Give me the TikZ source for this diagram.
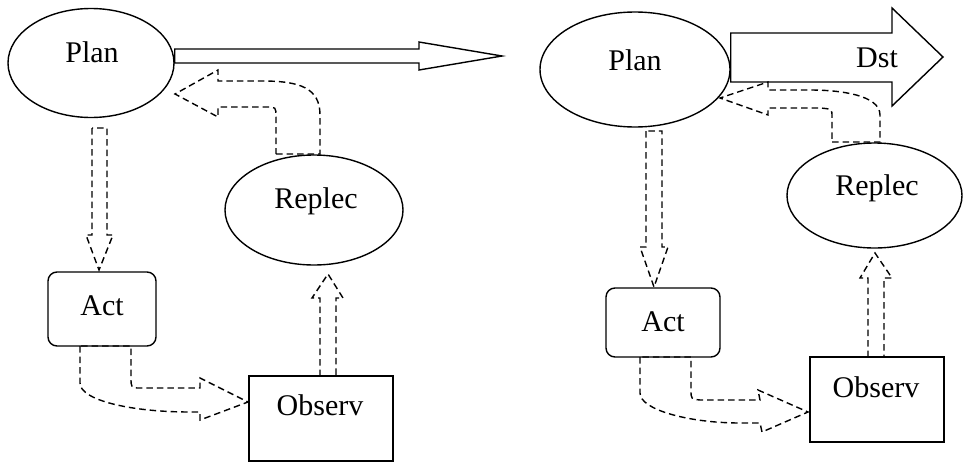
\documentclass[tikz,border=0pt]{standalone}
\usepackage{fontspec}
\setmainfont{Liberation Serif}
\usetikzlibrary{shapes.geometric}
\begin{document}
\begin{tikzpicture}[x=1pt,y=-1pt,
  every node/.style={font=\fontsize{30}{34}\selectfont},
  shp/.style={draw, line width=1.4pt, inner sep=0pt},
  ell/.style={shp, ellipse},
  boxr/.style={shp, rectangle},
  rboxr/.style={shp, rectangle, rounded corners=9pt},
  lbl/.style={anchor=base, inner sep=0pt},
  solidarrow/.style={draw, line width=1.4pt, line join=miter},
  dasharrow/.style={draw, line width=1.4pt, dash pattern=on 6.5pt off 4pt, line join=miter}]
\useasboundingbox (0,0) rectangle (963,463);
% left shapes
\node[ell, minimum width=166pt, minimum height=109pt] (planL) at (91,63) {};
\node[ell, minimum width=178pt, minimum height=110pt] (replecL) at (314,210) {};
\node[rboxr, minimum width=108pt, minimum height=74pt] (actL) at (102,309) {};
\node[boxr, minimum width=144pt, minimum height=85pt] (observL) at (321,418.5) {};
% right shapes
\node[ell, minimum width=190pt, minimum height=115pt] (planR) at (635,69.5) {};
\node[ell, minimum width=175pt, minimum height=105pt] (replecR) at (874.5,195.5) {};
\node[rboxr, minimum width=114pt, minimum height=69pt] (actR) at (663,322.5) {};
\node[boxr, minimum width=134pt, minimum height=85pt] (observR) at (877,399.5) {};
% labels
\node[lbl] (tPlanL) at (92,62) {Plan};
\node[lbl] (tReplecL) at (316,208) {Replec};
\node[lbl] (tActL) at (102,315) {Act};
\node[lbl] (tObservL) at (320,415) {Observ};
\node[lbl] (tPlanR) at (635,70) {Plan};
\node[lbl] (tReplecR) at (877,195) {Replec};
\node[lbl] (tActR) at (663,331) {Act};
\node[lbl] (tObservR) at (876,397) {Observ};
\node[lbl] (tDst) at (877,67) {Dst};
% big left arrow
\path[solidarrow] (planL.east |- 0,49) -- (419,49) -- (419,42) -- (502,56) -- (419,70) -- (419,63) -- (planL.east |- 0,63) -- cycle;
% Dst arrow
\path[solidarrow] (planR.east |- 0,33) -- (892,33) -- (892,8) -- (943,57) -- (892,106) -- (892,82) -- (planR.east |- 0,82) -- cycle;
% left: Plan -> Act
\path[dasharrow] (92,128) -- (92,235) -- (86,235) -- (99,270) -- (113,235) -- (107,235) -- (107,128) -- cycle;
% left: Replec -> Plan
\path[dasharrow] (276,154) -- (320,154) -- (320,115) .. controls (320,88) and (300,81) .. (262,81) -- (218,81) -- (218,70) -- (175,94) -- (218,117) -- (218,107) -- (266,107) .. controls (276,107) .. (276,117) -- cycle;
% left: Act -> Observ
\path[dasharrow] (80,346) -- (80,383) .. controls (80,400) and (130,412) .. (190,412) -- (200,412) -- (200,420) -- (248,402) -- (200,378) -- (200,388) -- (140,388) .. controls (131,388) .. (131,377) -- (131,346) -- cycle;
% left: Observ -> Replec
\path[dasharrow] (320,376) -- (320,298) -- (312,298) -- (328,274) -- (343,298) -- (336,298) -- (336,376) -- cycle;
% right: Plan -> Act
\path[dasharrow] (646,131) -- (646,247) -- (640,247) -- (654,287) -- (668,247) -- (662,247) -- (662,131) -- cycle;
% right: Replec -> Plan
\path[dasharrow] (832,142) -- (880,142) -- (880,115) .. controls (880,95) and (840,90) .. (810,90) -- (768,90) -- (768,82) -- (720,98) -- (768,115) -- (768,108) -- (820,108) .. controls (832,109) .. (832,117) -- cycle;
% right: Act -> Observ
\path[dasharrow] (640,357) -- (640,393) .. controls (640,410) and (690,423) .. (740,423) -- (760,423) -- (762,432) -- (808,412) -- (758,390) -- (760,400) -- (700,400) .. controls (691,399) .. (691,390) -- (691,357) -- cycle;
% right: Observ -> Replec
\path[dasharrow] (868,357) -- (868,278) -- (860,278) -- (875,253) -- (892,278) -- (884,278) -- (884,357) -- cycle;
\end{tikzpicture}
\end{document}
